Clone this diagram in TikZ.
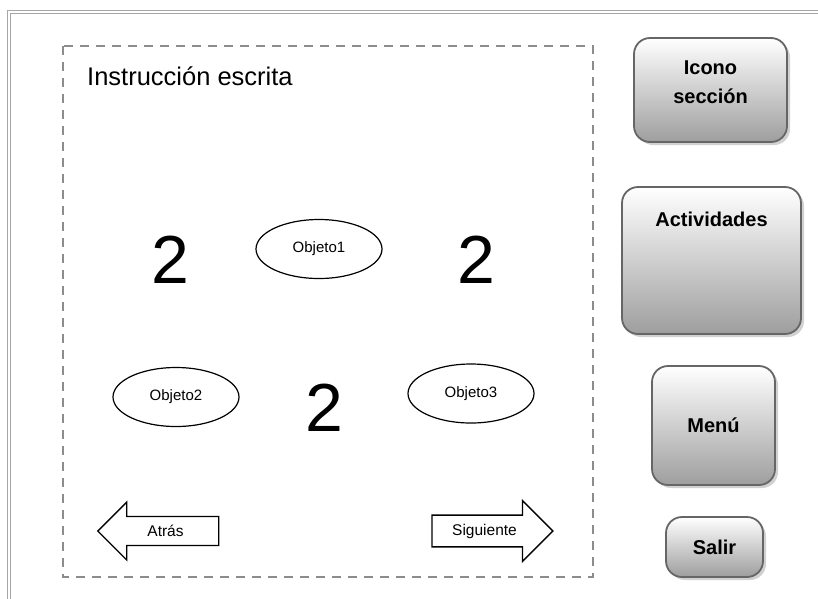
\documentclass[tikz,border=0pt]{standalone}
\usepackage{fontspec}
\setmainfont{Liberation Sans}
\usetikzlibrary{shapes.geometric,shapes.arrows,shadows}
\begin{document}
\begin{tikzpicture}[x=1pt, y=-1pt]
  \useasboundingbox (0, 0) rectangle (818, 598);  % Rahmen wie Vorlage.
  \tikzstyle{boton}=[rounded corners=16pt, draw=black!60, line width=1.8pt, top color=white, bottom color=black!38, drop shadow={shadow xshift=3pt, shadow yshift=-3pt, fill=black!30, opacity=0.6}, font=\fontsize{20}{25}\selectfont\bfseries, align=center, inner sep=0pt]
  \tikzstyle{objeto}=[ellipse, draw, line width=1.2pt, minimum width=126pt, minimum height=59pt, inner sep=0pt, font=\fontsize{15}{18}\selectfont]
  \tikzstyle{flecha}=[single arrow, draw, line width=1.4pt, minimum height=121pt, inner xsep=4pt, inner ysep=8pt, single arrow head extend=14.5pt, single arrow tip angle=90, font=\fontsize{15.5}{18}\selectfont]
  \tikzstyle{numero}=[inner sep=0pt, font=\fontsize{68}{70}\selectfont]

  \draw[black!35, double=white, double distance=1.6pt, line width=0.9pt] (9, 12) rectangle (840, 620);
  \draw[black!45, line width=2.4pt, dash pattern=on 9pt off 7pt] (63, 46) rectangle (593, 577);

  \node[anchor=base west, inner sep=0pt, font=\fontsize{25.5}{30}\selectfont] (instr) at (87, 85) {Instrucción escrita};

  \node[numero] (n1) at (170, 260) {2};
  \node[numero] (n2) at (476, 260) {2};
  \node[numero] (n3) at (324, 408) {2};

  \node[objeto] (obj1) at (319, 249)   {Objeto1};
  \node[objeto] (obj2) at (176, 397)   {Objeto2};
  \node[objeto] (obj3) at (471, 393.5) {Objeto3};

  \node[flecha, shape border rotate=180] (atras) at (165.5, 531) {Atrás};
  \node[flecha]                         (sig)   at (484.5, 531) {Siguiente};

  \node[boton, minimum width=153pt, minimum height=104pt] (icono) at (710.5, 90)    {Icono\\[4pt]sección\\[-10pt]};
  \node[boton, minimum width=179pt, minimum height=147pt,
        label={[anchor=north, yshift=-22pt, font=\fontsize{20}{25}\selectfont\bfseries]north:Actividades}]
                                                         (act)   at (711.5, 260.5) {};
  \node[boton, minimum width=123pt, minimum height=119pt] (menu)  at (713.5, 425.5) {Menú};
  \node[boton, minimum width=97pt,  minimum height=60pt]  (salir) at (714.5, 547)   {Salir};
\end{tikzpicture}
\end{document}
